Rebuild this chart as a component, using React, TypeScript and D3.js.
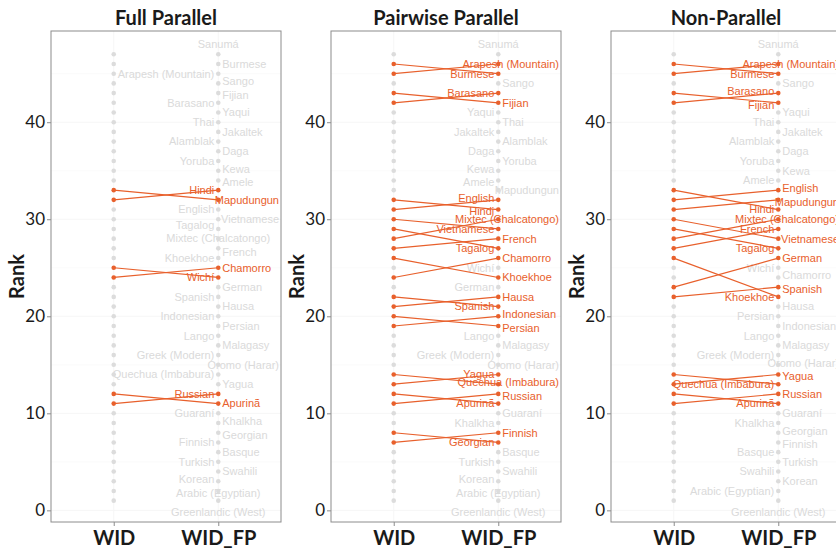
import { useRef, useEffect } from 'react'
import * as d3 from 'd3'

// rank on the WID_FP side, top to bottom
const fpRank = [47, 46, 45, 44, 43, 42, 41, 40, 39, 38, 37, 36, 35, 34, 33, 32, 31, 30, 29, 28, 27, 26, 25, 24,
  23, 22, 21, 20, 19, 18, 17, 16, 15, 14, 13, 12, 11, 10, 9, 8, 7, 6, 5, 4, 3, 2, 1]

const fullNames = ['Sanumá', 'Burmese', 'Arapesh (Mountain)', 'Sango', 'Fijian', 'Barasano', 'Yaqui', 'Thai',
  'Jakaltek', 'Alamblak', 'Daga', 'Yoruba', 'Kewa', 'Amele', 'Hindi', 'Mapudungun', 'English', 'Vietnamese',
  'Tagalog', 'Mixtec (Chalcatongo)', 'French', 'Khoekhoe', 'Chamorro', 'Wichí', 'German', 'Spanish', 'Hausa',
  'Indonesian', 'Persian', 'Lango', 'Malagasy', 'Greek (Modern)', 'Oromo (Harar)', 'Quechua (Imbabura)', 'Yagua',
  'Russian', 'Apurinã', 'Guaraní', 'Khalkha', 'Georgian', 'Finnish', 'Basque', 'Turkish', 'Swahili', 'Korean',
  'Arabic (Egyptian)', 'Greenlandic (West)']
const fullWid = [47, 46, 45, 44, 43, 42, 41, 40, 39, 38, 37, 36, 35, 34, 32, 33, 31, 30, 29, 28, 27, 26, 24, 25,
  23, 22, 21, 20, 19, 18, 17, 16, 15, 14, 13, 11, 12, 10, 9, 8, 7, 6, 5, 4, 3, 2, 1]

const pairNames = ['Sanumá', 'Arapesh (Mountain)', 'Burmese', 'Sango', 'Barasano', 'Fijian', 'Yaqui', 'Thai',
  'Jakaltek', 'Alamblak', 'Daga', 'Yoruba', 'Kewa', 'Amele', 'Mapudungun', 'English', 'Hindi',
  'Mixtec (Chalcatongo)', 'Vietnamese', 'French', 'Tagalog', 'Chamorro', 'Wichí', 'Khoekhoe', 'German', 'Hausa',
  'Spanish', 'Indonesian', 'Persian', 'Lango', 'Malagasy', 'Greek (Modern)', 'Oromo (Harar)', 'Yagua',
  'Quechua (Imbabura)', 'Russian', 'Apurinã', 'Guaraní', 'Khalkha', 'Finnish', 'Georgian', 'Basque', 'Turkish',
  'Swahili', 'Korean', 'Arabic (Egyptian)', 'Greenlandic (West)']
const pairWid = [47, 45, 46, 44, 42, 43, 41, 40, 39, 38, 37, 36, 35, 34, 33, 31, 32, 28, 30, 27, 29, 24, 25, 26,
  23, 21, 22, 19, 20, 18, 17, 16, 15, 13, 14, 11, 12, 10, 9, 7, 8, 6, 5, 4, 3, 2, 1]

const nonNames = ['Sanumá', 'Arapesh (Mountain)', 'Burmese', 'Sango', 'Barasano', 'Fijian', 'Yaqui', 'Thai',
  'Jakaltek', 'Alamblak', 'Daga', 'Yoruba', 'Kewa', 'Amele', 'English', 'Mapudungun', 'Hindi',
  'Mixtec (Chalcatongo)', 'French', 'Vietnamese', 'Tagalog', 'German', 'Wichí', 'Chamorro', 'Spanish', 'Khoekhoe',
  'Hausa', 'Persian', 'Indonesian', 'Lango', 'Malagasy', 'Greek (Modern)', 'Oromo (Harar)', 'Yagua',
  'Quechua (Imbabura)', 'Russian', 'Apurinã', 'Guaraní', 'Khalkha', 'Georgian', 'Finnish', 'Basque', 'Turkish',
  'Swahili', 'Korean', 'Arabic (Egyptian)', 'Greenlandic (West)']
const nonWid = [47, 45, 46, 44, 42, 43, 41, 40, 39, 38, 37, 36, 35, 34, 32, 31, 33, 28, 27, 30, 29, 23, 25, 24,
  22, 26, 21, 20, 19, 18, 17, 16, 15, 13, 14, 11, 12, 10, 9, 8, 7, 6, 5, 4, 3, 2, 1]

// where each label sits relative to its WID_FP point (A above, B below, C centred, L / R)
const fullSide = 'ARLRRLRLRLRLRRLRLRLCRLRLRLRLRLRLRLRLRLRRLRLRLCB'.split('')
const pairSide = 'ARLRLRLRLRLRLLRLLRLRLRLRLRLRRLRLRLRRLRLRLRLRLCB'.split('')
const nonSide = 'ARLRLLRLRLRLRLRRLRLRLRLRRLRLRLRLRRLRLRLRRLRLRLB'.split('')

const panels = [
  { title: 'Full Parallel', names: fullNames, wid: fullWid, side: fullSide },
  { title: 'Pairwise Parallel', names: pairNames, wid: pairWid, side: pairSide },
  { title: 'Non-Parallel', names: nonNames, wid: nonWid, side: nonSide },
]

const yTicks = [0, 10, 20, 30, 40]

const ORANGE = '#E8602C'
const GRAY_PT = '#DCDCDC'
const GRAY_TXT = '#DADADA'

const App = () => {
  const svgRef = useRef<SVGSVGElement>(null)

  useEffect(() => {
    const svg = d3.select(svgRef.current)
    svg.selectAll('*').remove()

    const plotL = 51, plotR = 281, plotT = 31, plotB = 522
    const y = d3.scaleLinear().domain([-1.2, 49.4]).range([plotB, plotT])
    const x = d3.scalePoint<string>().domain(['WID', 'WID_FP']).range([plotL, plotR]).padding(0.6)
    const xw = x('WID') as number
    const xf = x('WID_FP') as number

    panels.forEach((p, pi) => {
      const g = svg.append('g').attr('transform', `translate(${pi * 280},0)`)

      g.append('rect')
        .attr('x', plotL).attr('y', plotT)
        .attr('width', plotR - plotL).attr('height', plotB - plotT)
        .attr('fill', '#fff')

      // faint grid
      d3.range(0, 50, 5).forEach(v => {
        g.append('line')
          .attr('x1', plotL).attr('x2', plotR)
          .attr('y1', y(v)).attr('y2', y(v))
          .attr('stroke', '#f6f6f6').attr('stroke-width', v % 10 === 0 ? 1 : 0.5)
      })
      ;[xw, xf].forEach(cx => {
        g.append('line')
          .attr('x1', cx).attr('x2', cx).attr('y1', plotT).attr('y2', plotB)
          .attr('stroke', '#f6f6f6')
      })

      const rows = fpRank.map((fp, i) => {
        const side = p.side[i]
        let ty = y(fp)
        if (side === 'A') ty -= 10
        if (side === 'B') ty += 11
        return { fp, wid: p.wid[i], name: p.names[i], side, moved: fp !== p.wid[i], y0: ty, ty }
      })

      // crude repel: labels on the same side keep a minimum vertical gap
      const gap = 14
      const groups = ['L', 'R'].map(s => rows.filter(r => r.side === s || 'ABC'.includes(r.side)))
      for (let it = 0; it < 80; it++) {
        groups.forEach(grp => {
          grp.sort((a, b) => a.ty - b.ty)
          for (let k = 1; k < grp.length; k++) {
            const a = grp[k - 1], b = grp[k]
            const d = b.ty - a.ty
            if (d < gap) {
              const push = (gap - d) / 2
              a.ty -= push
              b.ty += push
            }
          }
        })
        rows.forEach(r => {
          r.ty += (r.y0 - r.ty) * 0.05
          r.ty = Math.max(plotT + 7, Math.min(plotB - 7, r.ty))
        })
      }

      // labels
      rows.forEach(r => {
        const t = g.append('text')
          .attr('font-family', '"Liberation Sans", Arial, sans-serif')
          .attr('font-size', 11)
          .attr('fill', r.moved ? ORANGE : GRAY_TXT)
          .attr('dy', '0.35em')
          .attr('y', r.ty)
          .text(r.name)
        const w = (t.node() as SVGTextElement).getComputedTextLength()
        let left
        if (r.side === 'L') left = xf - 4 - w
        else if (r.side === 'R') left = xf + 4
        else left = xf - w / 2
        if (left + w > plotR - 2) left = plotR - 2 - w
        if (left < plotL + 2) left = plotL + 2
        t.attr('x', left)
      })

      // moved lines
      rows.filter(r => r.moved).forEach(r => {
        g.append('line')
          .attr('x1', xw).attr('y1', y(r.wid))
          .attr('x2', xf).attr('y2', y(r.fp))
          .attr('stroke', ORANGE).attr('stroke-width', 1.2)
      })

      // points, grey first so the orange ones stay on top
      const pts = rows.flatMap(r => [
        { cx: xw, cy: y(r.wid), moved: r.moved },
        { cx: xf, cy: y(r.fp), moved: r.moved },
      ]).sort((a, b) => Number(a.moved) - Number(b.moved))
      g.selectAll('circle.pt').data(pts).join('circle')
        .attr('class', 'pt')
        .attr('cx', d => d.cx).attr('cy', d => d.cy).attr('r', 2.3)
        .attr('fill', d => d.moved ? ORANGE : GRAY_PT)

      // border
      g.append('rect')
        .attr('x', plotL).attr('y', plotT)
        .attr('width', plotR - plotL).attr('height', plotB - plotT)
        .attr('fill', 'none').attr('stroke', '#8c8c8c').attr('stroke-width', 1)

      // y axis
      const ya = g.append('g').attr('transform', `translate(${plotL},0)`)
        .call(d3.axisLeft(y).tickValues(yTicks).tickSize(4).tickPadding(2))
      ya.select('.domain').remove()
      ya.selectAll('line').attr('stroke', '#8c8c8c')
      ya.selectAll('text').attr('font-family', 'Lato, sans-serif').attr('font-size', 17).attr('fill', '#1a1a1a')

      // x axis
      const xa = g.append('g').attr('transform', `translate(0,${plotB})`)
        .call(d3.axisBottom(x).tickSize(4).tickPadding(5))
      xa.select('.domain').remove()
      xa.selectAll('line').attr('stroke', '#8c8c8c')
      xa.selectAll('text').attr('font-family', 'Lato, sans-serif').attr('font-weight', 'bold')
        .attr('font-size', 20).attr('fill', '#1a1a1a')

      g.append('text')
        .attr('x', (plotL + plotR) / 2).attr('y', 25)
        .attr('text-anchor', 'middle')
        .attr('font-family', 'Lato, sans-serif').attr('font-weight', 'bold').attr('font-size', 20)
        .attr('fill', '#1a1a1a')
        .text(p.title)

      g.append('text')
        .attr('transform', `translate(17,${(plotT + plotB) / 2}) rotate(-90)`)
        .attr('text-anchor', 'middle')
        .attr('dy', '0.35em')
        .attr('font-family', 'Lato, sans-serif').attr('font-weight', 'bold').attr('font-size', 20)
        .attr('fill', '#1a1a1a')
        .text('Rank')
    })
  }, [])

  return (
    <svg
      ref={svgRef}
      width={836} height={548}
      style={{ position: 'absolute', left: 0, top: 0, background: '#fff' }}
    />
  )
}

export default App
